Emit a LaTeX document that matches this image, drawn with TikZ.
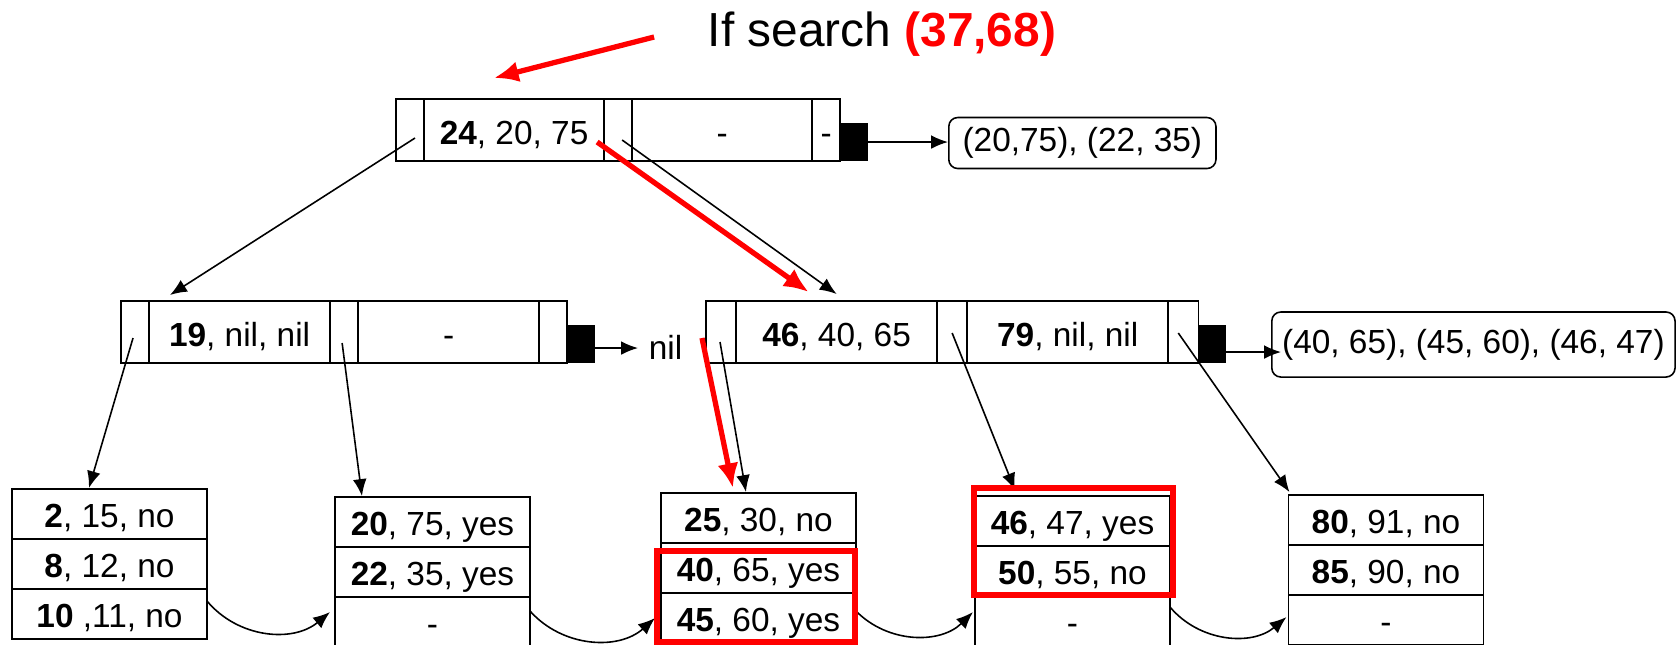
\documentclass[tikz,border=0pt]{standalone}
\usepackage{fontspec}
\setmainfont{Liberation Sans}
\usetikzlibrary{arrows.meta,calc}

\newcommand{\fsz}{\fontsize{9.5}{11}\selectfont}

\tikzset{
  >={Latex[length=4.8pt,width=3.9pt]},
  cellbox/.style={draw, inner sep=0pt, outer sep=0pt, minimum height=0.62cm, text height=8.6pt, text depth=0.5pt, anchor=west, font=\fsz},
  ptrcell/.style={cellbox, minimum width=0.28cm},
  keycell/.style={cellbox, minimum width=#1},
  keycell/.default=1.81cm,
  sqbox/.style={fill=black, inner sep=0pt, outer sep=0pt, minimum width=0.28cm, minimum height=0.38cm, anchor=south west},
  infobox/.style={draw, rounded corners=0.09cm, inner sep=0pt, anchor=west, font=\fsz},
  leafrow/.style={draw, inner sep=0pt, outer sep=0pt, minimum width=1.95cm, minimum height=0.5cm, text height=8.2pt, text depth=0.5pt, anchor=north, font=\fsz},
  redarrow/.style={-{Latex[length=7pt,width=6pt]}, red, line width=1.5pt},
  hilite/.style={draw=red, line width=1.6pt},
}

\begin{document}
\begin{tikzpicture}[x=0.01cm, y=-0.01cm, line width=0.45pt]
  \useasboundingbox (0,0) rectangle (1676,644);

  % Query
  \node[font=\fontsize{13.6}{16}\selectfont, inner sep=0pt] (srch) at (882,34) {If search \textcolor{red}{\textbf{(37,68)}}};

  % Root
  \node[ptrcell] (rp0) at (396,130) {};
  \node[keycell=1.80cm] (rk0) at (rp0.east) {\textbf{24}, 20, 75};
  \node[ptrcell] (rp1) at (rk0.east) {};
  \node[keycell=1.80cm] (rk1) at (rp1.east) {-};
  \node[ptrcell] (rp2) at (rk1.east) {-};
  \node[sqbox] (rsq) at (rp2.south east) {};
  \node[infobox, minimum width=2.67cm, minimum height=0.51cm] (rinfo) at (948,143) {(20,75), (22, 35)};
  \draw[->] (rsq.east) -- (rsq.east -| rinfo.west);

  % Left inner node
  \node[ptrcell] (lp0) at (121,332) {};
  \node[keycell] (lk0) at (lp0.east) {\textbf{19}, nil, nil};
  \node[ptrcell] (lp1) at (lk0.east) {};
  \node[keycell] (lk1) at (lp1.east) {-};
  \node[ptrcell] (lp2) at (lk1.east) {};
  \node[sqbox] (lsq) at (lp2.south east) {};
  \node[font=\fsz, inner sep=0.1cm, anchor=west] (lnil) at (638,347) {nil};
  \coordinate (lout) at ([yshift=-0.04cm]lsq.east);
  \draw[->] (lout) -- (lout -| lnil.west);

  % Right inner node
  \node[ptrcell, minimum width=0.30cm] (mp0) at (706,332) {};
  \node[keycell=2.01cm] (mk0) at (mp0.east) {\textbf{46}, 40, 65};
  \node[ptrcell, minimum width=0.30cm] (mp1) at (mk0.east) {};
  \node[keycell=2.01cm] (mk1) at (mp1.east) {\textbf{79}, nil, nil};
  \node[ptrcell, minimum width=0.30cm] (mp2) at (mk1.east) {};
  \node[sqbox] (msq) at (mp2.south east) {};
  \node[infobox, minimum width=4.03cm, minimum height=0.65cm] (minfo) at (1271,344.5) {(40, 65), (45, 60), (46, 47)};
  \coordinate (mout) at ([yshift=-0.08cm]msq.east);
  \draw[->, shorten >=-0.1cm] (mout) -- (mout -| minfo.west);

  % Leaves
  \node[leafrow] (l1a) at (109.5,489) {\textbf{2}, 15, no};
  \node[leafrow] (l1b) at (l1a.south) {\textbf{8}, 12, no};
  \node[leafrow] (l1c) at (l1b.south) {\textbf{10} ,11, no};

  \node[leafrow] (l2a) at (432.5,497) {\textbf{20}, 75, yes};
  \node[leafrow] (l2b) at (l2a.south) {\textbf{22}, 35, yes};
  \node[leafrow] (l2c) at (l2b.south) {-};

  \node[leafrow] (l3a) at (758.5,493) {\textbf{25}, 30, no};
  \node[leafrow] (l3b) at (l3a.south) {\textbf{40}, 65, yes};
  \node[leafrow] (l3c) at (l3b.south) {\textbf{45}, 60, yes};

  \node[leafrow] (l4a) at (1072.5,496) {\textbf{46}, 47, yes};
  \node[leafrow] (l4b) at (l4a.south) {\textbf{50}, 55, no};
  \node[leafrow] (l4c) at (l4b.south) {-};

  \node[leafrow] (l5a) at (1386,495) {\textbf{80}, 91, no};
  \node[leafrow] (l5b) at (l5a.south) {\textbf{85}, 90, no};
  \node[leafrow] (l5c) at (l5b.south) {-};

  % Tree pointers
  \draw[->] ($(rp0.center)+(5,8)$) -- ($(lk0.north west)+(21,-6)$);
  \draw[->] ($(rp1.center)+(4,10)$) -- ($(mk0.north)+(0,-7)$);
  \draw[->] ($(lp0.center)+(-2,6)$) -- ($(l1a.north west)+(77,-1)$);
  \draw[->] ($(lp1.center)+(-2,11)$) -- ($(l2a.north west)+(27,-1)$);
  \draw[->] ($(mp0.center)+(-1,10)$) -- ($(l3a.north west)+(85,-1)$);
  \draw[->] ($(mp1.center)+(0,1)$) -- ($(l4a.north west)+(40,-6)$);
  \draw[->] ($(mp2.center)+(-5,1)$) -- ($(l5a.north west)+(1,-3)$);

  % Leaf chain
  \draw[->] ($(l1c.north east)+(0,12)$) to[bend right=45] ($(l2c.north west)+(-5,15)$);
  \draw[->] ($(l2c.north east)+(0,14)$) to[bend right=45] ($(l3c.north west)+(-6,25)$);
  \draw[->] ($(l3c.north east)+(0,18)$) to[bend right=45] ($(l4c.north west)+(-2,16)$);
  \draw[->] ($(l4c.north east)+(0,11)$) to[bend right=45] ($(l5c.north west)+(-2,22)$);

  % Search path
  \draw[redarrow] ($(srch.west)+(-53,3)$) -- ($(rk0.north west)+(70,-21)$);
  \draw[redarrow] ($(rk0.south east)+(-7,-19)$) -- ($(mk0.north)+(-28,-9)$);
  \draw[redarrow] ($(mp0.west)+(-4,6)$) -- ($(l3a.north west)+(72,-5)$);

  % Result
  \draw[hilite] ($(l3b.north west)+(-4,8)$) rectangle ($(l3c.south east)+(-1,-1)$);
  \draw[hilite] ($(l4a.north west)+(-1,-8)$) rectangle ($(l4b.south east)+(3,-1)$);
\end{tikzpicture}
\end{document}
